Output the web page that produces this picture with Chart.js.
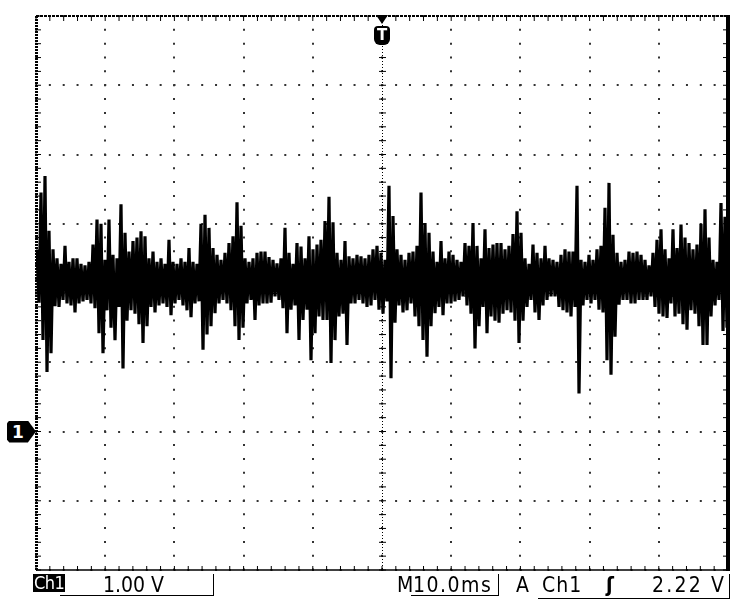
<!DOCTYPE html>
<html><head><meta charset="utf-8">
<script src="https://cdn.jsdelivr.net/npm/chart.js@4.4.1/dist/chart.umd.min.js"></script>
<style>
html,body{margin:0;padding:0;background:#fff;}
#wrap{position:relative;width:741px;height:613px;overflow:hidden;background:#fff;}
#c{position:absolute;left:0;top:0;}
.t{position:absolute;font-family:"DejaVu Sans Condensed","DejaVu Sans",sans-serif;font-size:21px;line-height:21px;color:#000;white-space:pre;}
.ln{position:absolute;background:#000;}
#ch1box{background:#000;color:#fff;font-size:18px;line-height:18px;height:18px;padding:0 1px;letter-spacing:-0.5px;}
#tmark{position:absolute;width:16px;height:19px;background:#000;color:#fff;font:bold 15px "DejaVu Sans",sans-serif;text-align:center;line-height:18px;border-radius:4px 4px 6px 6px;}
#ttri{position:absolute;width:0;height:0;border-left:6px solid transparent;border-right:6px solid transparent;border-top:9px solid #000;}
#gmark{position:absolute;width:29px;height:22px;background:#000;color:#fff;font:bold 17px "DejaVu Sans",sans-serif;line-height:22px;text-indent:5px;clip-path:polygon(0 12%,8% 0,72% 0,100% 50%,72% 100%,8% 100%,0 88%);}
</style></head><body>
<div id="wrap">
<canvas id="c" width="741" height="613"></canvas>
<div id="ttri"></div>
<div id="tmark">T</div>
<div id="gmark">1</div>
<div class="t" id="ch1box" style="left:33px;top:574px;">Ch1</div>
<div class="t" style="left:103px;top:575px;">1.00 V</div>
<div class="ln" style="left:60px;top:595px;width:154px;height:1px;"></div>
<div class="ln" style="left:213px;top:574px;width:1px;height:22px;"></div>
<div class="t" style="left:397px;top:575px;">M</div>
<div class="t" style="left:413px;top:575px;letter-spacing:1.5px;">10.0ms</div>
<div class="ln" style="left:411px;top:595px;width:88px;height:1px;"></div>
<div class="ln" style="left:498px;top:574px;width:1px;height:22px;"></div>
<div class="t" style="left:516px;top:575px;">A</div>
<div class="t" style="left:542px;top:575px;letter-spacing:1px;">Ch1</div>
<div class="t" style="left:606px;top:575px;font-weight:bold;">ʃ</div>
<div class="t" style="left:652px;top:575px;letter-spacing:2.2px;">2.22 V</div>
<div class="ln" style="left:538px;top:598px;width:192px;height:1px;"></div>
<div class="ln" style="left:729px;top:574px;width:1px;height:25px;"></div>
</div>
<script>
// Channel 1 trace, read column by column (173 columns across 10 divisions): top and bottom of the trace in volts
const hiV = [2.63,3.45,3.69,2.9,2.63,2.5,2.42,2.68,2.45,2.5,2.5,2.42,2.4,2.45,2.7,3.06,3.0,2.48,3.06,2.55,
2.5,3.28,2.87,2.6,2.75,2.8,2.89,2.82,2.5,2.6,2.45,2.5,2.42,2.77,2.45,2.42,2.5,2.45,2.65,2.45,
2.42,3.0,3.13,2.94,2.65,2.55,2.48,2.58,2.72,2.82,3.31,2.97,2.5,2.45,2.5,2.58,2.6,2.6,2.52,2.48,
2.43,2.5,2.94,2.58,2.42,2.72,2.67,2.5,2.82,2.63,2.7,2.77,3.04,3.39,3.02,2.58,2.48,2.75,2.53,2.5,
2.55,2.53,2.5,2.55,2.63,2.68,2.58,2.48,3.55,3.11,2.63,2.55,2.48,2.58,2.6,2.68,3.45,3.01,2.87,2.6,
2.45,2.75,2.5,2.6,2.55,2.48,2.45,2.72,2.68,3.01,2.68,2.5,2.92,2.65,2.7,2.72,2.72,2.63,2.68,2.85,
3.18,2.87,2.5,2.42,2.7,2.58,2.5,2.68,2.5,2.48,2.45,2.55,2.63,2.6,2.6,3.55,2.48,2.45,2.55,2.48,
2.63,2.68,3.23,3.59,2.84,2.58,2.45,2.48,2.6,2.58,2.6,2.55,2.48,2.4,2.58,2.77,2.92,2.63,2.5,2.92,
2.65,2.99,2.8,2.72,2.63,2.7,3.0,3.21,2.8,2.48,2.45,3.3,3.1];
const loV = [1.86,1.32,0.86,1.13,1.81,1.8,1.9,1.85,1.82,1.72,1.85,1.88,1.9,1.85,1.78,1.42,1.13,1.75,1.5,1.32,
1.8,0.91,1.6,1.75,1.7,1.55,1.28,1.52,1.8,1.72,1.82,1.85,1.8,1.68,1.85,1.9,1.82,1.75,1.65,1.85,
1.88,1.18,1.4,1.52,1.71,1.85,1.9,1.85,1.75,1.52,1.32,1.5,1.85,1.9,1.61,1.82,1.85,1.85,1.86,1.95,
1.9,1.78,1.42,1.76,1.82,1.32,1.61,1.76,1.03,1.42,1.66,1.61,1.61,0.99,1.32,1.66,1.7,1.25,1.85,1.85,
1.9,1.85,1.8,1.82,1.9,1.76,1.7,1.88,0.77,1.57,1.82,1.72,1.75,1.85,1.66,1.52,1.32,1.08,1.52,1.71,
1.8,1.68,1.85,1.85,1.88,1.9,1.95,1.82,1.7,1.2,1.52,1.8,1.42,1.66,1.6,1.57,1.7,1.75,1.72,1.6,
1.28,1.6,1.8,1.9,1.72,1.61,1.82,1.9,1.95,1.95,1.8,1.75,1.72,1.66,1.8,0.55,1.82,1.9,1.85,1.9,
1.76,1.72,1.03,0.82,1.37,1.83,1.9,1.9,1.85,1.85,1.9,1.9,1.9,1.95,1.8,1.7,1.66,1.64,1.85,1.66,
1.7,1.55,1.47,1.75,1.7,1.52,1.25,1.25,1.66,1.82,1.9,1.45,1.5];
// Time axis: 10 divisions of 10.0 ms; volts axis: 8 divisions of 1.00 V, ground marker at 0 V
const timeTicksMs = [0,10,20,30,40,50,60,70,80,90,100];
const voltTicks = [-2,-1,0,1,2,3,4,5,6];
const triggerMs = 50;
const groundV = 0;

const sweepMs = timeTicksMs[timeTicksMs.length-1];
const n = hiV.length;
const trace = [];
for (let i = 0; i < n; i++) {
  trace.push({x: (i + 0.25) * sweepMs / n, y: hiV[i]});
  trace.push({x: (i + 0.75) * sweepMs / n, y: loV[i]});
}

const frame = {
  id: 'frame',
  afterDraw(chart) {
    const {ctx, chartArea: a, scales: {x, y}} = chart;
    const minorX = [], minorY = [];
    for (let k = 0; k <= 50; k++) minorX.push(x.getPixelForValue(k * sweepMs / 50));
    for (let k = 0; k <= 40; k++) minorY.push(y.getPixelForValue(voltTicks[0] + k * 0.2));
    const cx = x.getPixelForValue(triggerMs), cy = y.getPixelForValue(2);
    ctx.save();
    ctx.strokeStyle = '#000';
    ctx.lineWidth = 1;
    ctx.setLineDash([1, 2]);
    ctx.beginPath(); ctx.moveTo(cx + 0.5, a.top); ctx.lineTo(cx + 0.5, a.bottom); ctx.stroke();
    ctx.beginPath(); ctx.moveTo(a.left, cy + 0.5); ctx.lineTo(a.right, cy + 0.5); ctx.stroke();
    ctx.setLineDash([]);
    ctx.beginPath();
    minorY.forEach(p => { ctx.moveTo(cx - 3, p); ctx.lineTo(cx + 4, p); });
    minorX.forEach(p => { ctx.moveTo(p, cy - 3); ctx.lineTo(p, cy + 4); });
    minorY.forEach(p => { ctx.moveTo(a.left, p); ctx.lineTo(a.left + 5, p); ctx.moveTo(a.right - 5, p); ctx.lineTo(a.right, p); });
    minorX.forEach(p => { ctx.moveTo(p, a.top); ctx.lineTo(p, a.top + 5); ctx.moveTo(p, a.bottom - 4); ctx.lineTo(p, a.bottom); });
    ctx.stroke();
    ctx.lineWidth = 3;
    ctx.setLineDash([2, 1]);
    ctx.beginPath(); ctx.moveTo(a.left + 0.5, a.top); ctx.lineTo(a.left + 0.5, a.bottom); ctx.stroke();
    ctx.lineWidth = 2;
    ctx.setLineDash([3, 1]);
    ctx.beginPath(); ctx.moveTo(a.left, a.top); ctx.lineTo(a.right, a.top); ctx.stroke();
    ctx.lineWidth = 1.5;
    ctx.setLineDash([]);
    ctx.beginPath(); ctx.moveTo(a.left, a.bottom); ctx.lineTo(a.right, a.bottom); ctx.stroke();
    ctx.lineWidth = 4;
    ctx.beginPath(); ctx.moveTo(a.right, a.top - 1); ctx.lineTo(a.right, a.bottom + 1); ctx.stroke();
    ctx.restore();
  }
};

const chart = new Chart(document.getElementById('c'), {
  type: 'line',
  data: {datasets: [{
    data: trace, borderColor: '#000', borderWidth: 3.2, borderJoinStyle: 'bevel',
    pointRadius: 0, tension: 0, fill: false
  }]},
  options: {
    responsive: false, animation: false, devicePixelRatio: 1,
    layout: {padding: {left: 36, top: 16, right: 13, bottom: 43}},
    plugins: {legend: {display: false}, tooltip: {enabled: false}},
    scales: {
      x: {type: 'linear', min: timeTicksMs[0], max: sweepMs,
          afterBuildTicks: s => { s.ticks = timeTicksMs.map(v => ({value: v})); },
          ticks: {display: false},
          grid: {color: '#333', lineWidth: 2, drawTicks: false},
          border: {display: false, dash: [2, 11.84], dashOffset: 1}},
      y: {type: 'linear', min: voltTicks[0], max: voltTicks[voltTicks.length-1],
          afterBuildTicks: s => { s.ticks = voltTicks.map(v => ({value: v})); },
          ticks: {display: false},
          grid: {color: '#333', lineWidth: 2, drawTicks: false},
          border: {display: false, dash: [2, 11.85], dashOffset: 1}}
    }
  },
  plugins: [frame]
});

const xs = chart.scales.x, ys = chart.scales.y, ca = chart.chartArea;
const tx = xs.getPixelForValue(triggerMs);
const tri = document.getElementById('ttri');
tri.style.left = (tx - 6) + 'px'; tri.style.top = (ca.top - 1) + 'px';
const tm = document.getElementById('tmark');
tm.style.left = (tx - 8) + 'px'; tm.style.top = (ca.top + 10) + 'px';
const gm = document.getElementById('gmark');
const gy = ys.getPixelForValue(groundV);
gm.style.left = (ca.left - 29) + 'px'; gm.style.top = (gy - 11) + 'px';
</script>
</body></html>
